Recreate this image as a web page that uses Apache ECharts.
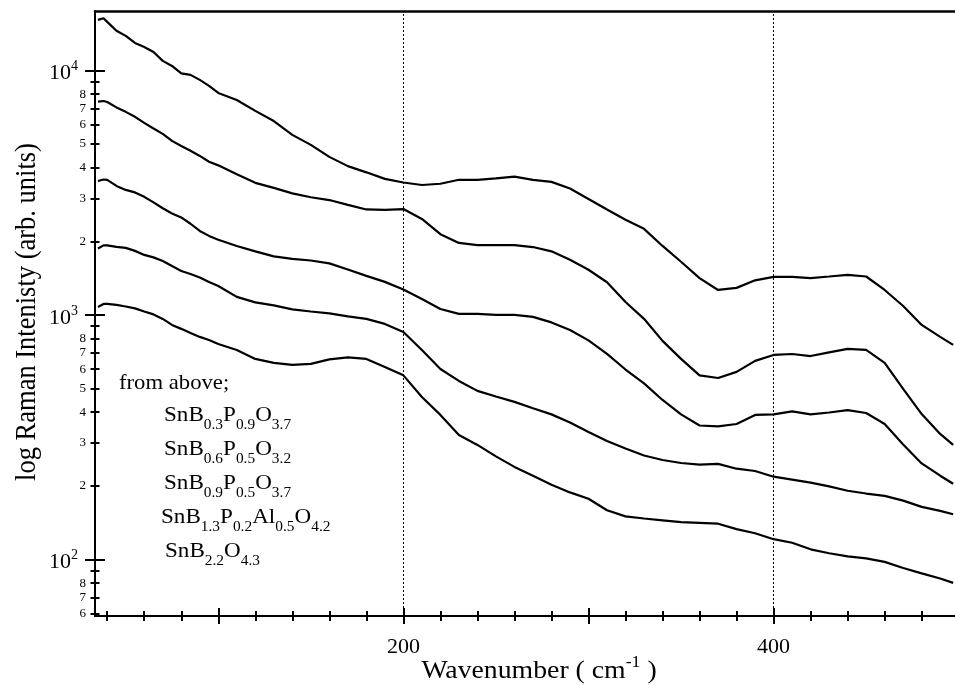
<!DOCTYPE html>
<html>
<head>
<meta charset="utf-8">
<script src="https://cdn.jsdelivr.net/npm/echarts@6/dist/echarts.min.js"></script>
<style>html,body{margin:0;padding:0;background:#fff}#c{width:955px;height:686px}</style>
</head>
<body>
<div id="c"></div>
<script>
// ---------- data ----------
const wavenumbers = [35,38,40,45,50,55,60,65,70,75,80,85,90,95,100,
  110,120,130,140,150,160,170,180,190,200,210,220,230,240,250,260,270,280,290,300,
  310,320,330,340,350,360,370,380,390,400,410,420,430,440,450,460,470,480,490,497];

const sB03P09O37 = [16100,16350,15800,14540,13840,12950,12470,11900,10940,10430,9720,9590,9150,8650,8090,
  7570,6830,6210,5450,4960,4430,4060,3830,3600,3480,3400,3440,3570,3570,3620,3680,3570,3500,3290,2980,
  2700,2450,2250,1915,1650,1415,1265,1290,1385,1430,1430,1415,1436,1458,1436,1265,1088,910,813,754];

const sB06P05O32 = [7450,7500,7430,7060,6770,6460,6100,5790,5500,5150,4910,4690,4470,4230,4090,
  3760,3470,3310,3140,3030,2950,2820,2700,2690,2710,2470,2140,1970,1930,1930,1930,1895,1820,1680,1530,
  1360,1130,964,783,661,566,552,585,649,686,692,679,703,726,719,637,498,393,326,294];

const sB09P05O37 = [3530,3580,3565,3370,3245,3170,3040,2885,2730,2600,2505,2360,2205,2105,2030,
  1915,1820,1735,1695,1670,1625,1535,1445,1365,1271,1162,1058,1010,1010,1000,1000,982,932,868,787,
  693,598,525,449,392,353,350,358,390,392,403,392,399,408,397,358,295,247,220,204];

const sB13P02Al05O42 = [1870,1925,1925,1897,1880,1828,1760,1719,1663,1586,1513,1471,1423,1364,1314,
  1185,1125,1094,1053,1033,1014,986,963,919,852,719,601,537,489,464,441,415,392,363,332,
  305,284,266,255,248,244,246,235,230,218,212,206,199,191,186,182,174,164,158,153];

const sB22O43 = [1078,1109,1109,1099,1083,1064,1033,1005,963,910,877,844,813,790,761,
  719,661,637,625,631,658,670,661,613,566,462,390,323,294,264,239,220,202,188,177,
  159,150,147,144.5,142,141,140,133,128,121,117,110,106,103,101,97.7,92.3,87.7,83.6,80.2];

const seriesList = [sB03P09O37, sB06P05O32, sB09P05O37, sB13P02Al05O42, sB22O43];

const xMajorTicks = [100,200,300,400];
const xMinorTicks = [40,60,80,120,140,160,180,220,240,260,280,320,340,360,380,420,440,460,480];
const xTickLabels = [200,400];
const refLines = [200,400];
const yDecadeTicks = [100,1000,10000];
const yMinorTicks = [60,70,80,90,200,300,400,500,600,700,800,900,2000,3000,4000,5000,6000,7000,8000,9000];
const yMinorLabels = [60,70,80,200,300,400,500,600,700,800,2000,3000,4000,5000,6000,7000,8000];

const introText = 'from above;';
const formulas = [
  [['SnB',0],['0.3',1],['P',0],['0.9',1],['O',0],['3.7',1]],
  [['SnB',0],['0.6',1],['P',0],['0.5',1],['O',0],['3.2',1]],
  [['SnB',0],['0.9',1],['P',0],['0.5',1],['O',0],['3.7',1]],
  [['SnB',0],['1.3',1],['P',0],['0.2',1],['Al',0],['0.5',1],['O',0],['4.2',1]],
  [['SnB',0],['2.2',1],['O',0],['4.3',1]]
];

// ---------- layout ----------
const X_MIN = 33.4, X_MAX = 498;
const Y_MIN = 58.7, Y_MAX = 17500;
const FONT = 'Liberation Serif';
const BLACK = '#000';

const chart = echarts.init(document.getElementById('c'), null, {renderer: 'canvas'});

function xAxisBase(extra) {
  return Object.assign({
    type: 'value', min: X_MIN, max: X_MAX, position: 'bottom',
    splitLine: {show: false},
    axisLine: {show: false},
    axisTick: {show: false},
    axisLabel: {show: false}
  }, extra);
}
function yAxisBase(extra) {
  return Object.assign({
    type: 'log', min: Y_MIN, max: Y_MAX, position: 'left', logBase: 10,
    splitLine: {show: false},
    axisLine: {show: false},
    axisTick: {show: false},
    axisLabel: {show: false}
  }, extra);
}
const tickStyle = {color: BLACK, width: 2};

const xAxes = [
  xAxisBase({
    axisLine: {show: true, onZero: false, lineStyle: {color: BLACK, width: 2}},
    axisTick: {show: true, customValues: xMajorTicks, inside: false, length: 8, lineStyle: tickStyle},
    axisLabel: {show: true, customValues: xTickLabels, margin: 20, color: BLACK,
      fontFamily: FONT, fontSize: 22}
  }),
  xAxisBase({axisTick: {show: true, customValues: xMajorTicks, inside: true, length: 8, lineStyle: tickStyle}}),
  xAxisBase({axisTick: {show: true, customValues: xMinorTicks, inside: false, length: 5, lineStyle: tickStyle}}),
  xAxisBase({axisTick: {show: true, customValues: xMinorTicks, inside: true, length: 5, lineStyle: tickStyle}}),
  xAxisBase({position: 'top', axisLine: {show: true, onZero: false, lineStyle: {color: BLACK, width: 2.5}}})
];

const yAxes = [
  yAxisBase({
    axisLine: {show: true, onZero: false, lineStyle: {color: BLACK, width: 2}},
    axisTick: {show: true, customValues: yDecadeTicks, inside: false, length: 10, lineStyle: tickStyle},
    axisLabel: {show: true, customValues: yDecadeTicks, margin: 17, color: BLACK,
      formatter: function (v) {
        return '{b|10}{s|' + Math.round(Math.log10(v)) + '}';
      },
      rich: {
        b: {fontFamily: FONT, fontSize: 22, lineHeight: 22, padding: [3, 0, 0, 0], verticalAlign: 'top', color: BLACK},
        s: {fontFamily: FONT, fontSize: 14, lineHeight: 14, verticalAlign: 'top', color: BLACK}
      }
    }
  }),
  yAxisBase({axisTick: {show: true, customValues: yDecadeTicks, inside: true, length: 10, lineStyle: tickStyle}}),
  yAxisBase({
    axisTick: {show: true, customValues: yMinorTicks, inside: false, length: 4.5, lineStyle: tickStyle},
    axisLabel: {show: true, customValues: yMinorLabels, margin: 9, color: BLACK, fontFamily: FONT, fontSize: 13,
      formatter: function (v) { return String(v).charAt(0); }}
  }),
  yAxisBase({axisTick: {show: true, customValues: yMinorTicks, inside: true, length: 4.5, lineStyle: tickStyle}})
];

const series = seriesList.map(function (vals, i) {
  const s = {
    type: 'line',
    xAxisIndex: 0, yAxisIndex: 0,
    data: wavenumbers.map(function (x, j) { return [x, vals[j]]; }),
    showSymbol: false, symbol: 'none',
    lineStyle: {color: BLACK, width: 2.2},
    silent: true,
    z: 3
  };
  if (i === 0) {
    s.markLine = {
      silent: true, symbol: ['none', 'none'], label: {show: false},
      lineStyle: {color: BLACK, type: [2, 2], width: 1},
      data: refLines.map(function (v) { return {xAxis: v}; })
    };
  }
  return s;
});

function formulaRich(parts) {
  return parts.map(function (p) { return '{' + (p[1] ? 's' : 'n') + '|' + p[0] + '}'; }).join('');
}
const legendRich = {
  n: {fontFamily: FONT, fontSize: 21, lineHeight: 24, verticalAlign: 'top', fill: BLACK, color: BLACK},
  s: {fontFamily: FONT, fontSize: 14, lineHeight: 14, padding: [13, 0, 0, 0], verticalAlign: 'top', fill: BLACK, color: BLACK}
};
const formulaPos = [[164, 405], [164, 439], [164, 473], [161, 507], [165, 541]];

const graphics = [
  {type: 'text', x: 119, y: 383, scaleX: 1.08, silent: true,
    style: {text: introText, fontFamily: FONT, fontSize: 21, fill: BLACK, align: 'left', verticalAlign: 'middle'}},
  {type: 'text', x: 27, y: 312, rotation: Math.PI / 2, scaleY: 1.1, silent: true,
    style: {text: 'log Raman Intenisty (arb. units)', fontFamily: FONT, fontSize: 26.5, fill: BLACK,
      align: 'center', verticalAlign: 'middle'}},
  {type: 'text', x: 539, y: 655, scaleX: 1.11, silent: true,
    style: {text: '{n|Wavenumber ( cm}{p|-1}{n| )}', align: 'center', verticalAlign: 'top', fill: BLACK,
      rich: {
        n: {fontFamily: FONT, fontSize: 25, lineHeight: 27, padding: [4, 0, 0, 0], verticalAlign: 'top', fill: BLACK},
        p: {fontFamily: FONT, fontSize: 16, lineHeight: 16, verticalAlign: 'top', fill: BLACK}
      }}}
];
formulas.forEach(function (f, i) {
  graphics.push({type: 'text', x: formulaPos[i][0], y: formulaPos[i][1], scaleX: 1.1, silent: true,
    style: {text: formulaRich(f), rich: legendRich, align: 'left', verticalAlign: 'top', fill: BLACK}});
});

chart.setOption({
  animation: false,
  backgroundColor: '#fff',
  grid: {left: 95, right: 0, top: 11, bottom: 70, containLabel: false},
  xAxis: xAxes,
  yAxis: yAxes,
  series: series,
  graphic: graphics
});
</script>
</body>
</html>
